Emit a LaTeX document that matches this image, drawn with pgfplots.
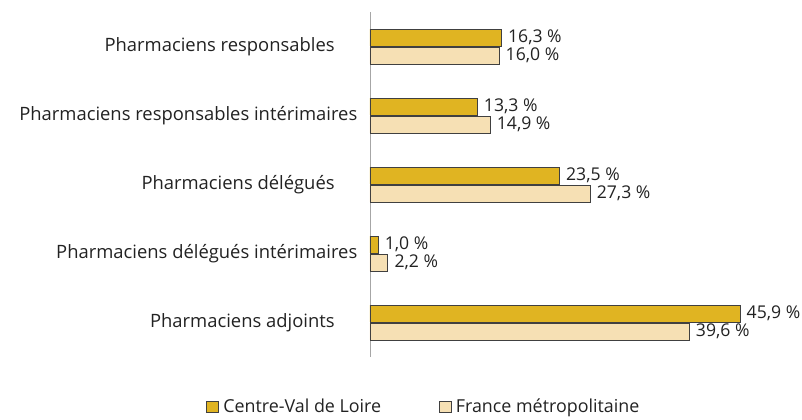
\documentclass[border=0pt]{standalone}
\usepackage{fontspec}
\setmainfont{Open Sans}
\usepackage{pgfplots}
\pgfplotsset{compat=1.18}
\definecolor{cvl}{HTML}{E0B422}
\definecolor{fra}{HTML}{F6E0B4}
\definecolor{txt}{HTML}{222222}

\begin{document}
\begin{tikzpicture}
\useasboundingbox (-277.5pt,-46.5pt) rectangle (324pt,267.75pt);
\begin{axis}[
    xbar,
    scale only axis,
    width=324pt, height=258.75pt,
    xmin=0, xmax=53.6,
    ymin=-0.5, ymax=4.5,
    y dir=reverse,
    bar width=12.6pt,
    axis x line=none,
    axis y line*=left,
    y axis line style={draw=gray!70, line width=0.6pt, -},
    ytick={0,1,2,3,4},
    yticklabels={Pharmaciens responsables\hspace*{17pt}, Pharmaciens responsables intérimaires, Pharmaciens délégués\hspace*{17pt}, Pharmaciens délégués intérimaires, Pharmaciens adjoints\hspace*{17pt}},
    major tick length=0pt,
    yticklabel style={font=\fontsize{13.8}{16}\selectfont, text=txt, xshift=-6pt},
    /pgf/number format/.cd, use comma, fixed, fixed zerofill, precision=1, assume math mode=true,
    /pgfplots/.cd,
    nodes near coords={\pgfmathprintnumber{\pgfplotspointmeta}~\%},
    nodes near coords style={font=\fontsize{13.2}{16}\selectfont, text=txt, anchor=west, xshift=1.5pt},
    clip=false,
    legend style={at={(0.125,0)}, anchor=center, yshift=-37.5pt, draw=none, fill=none,
        font=\fontsize{13.4}{16}\selectfont, text=txt,
        /tikz/every even column/.append style={column sep=41pt}},
    legend columns=2,
    legend image code/.code={\draw[#1, line width=0.6pt] (0pt,-4.2pt) rectangle (9pt,4.2pt); \path (10.5pt,0pt);},
]
\addplot[fill=cvl, draw=black!75, line width=0.5pt, bar shift=6.7pt] coordinates {
    (16.3,0) (13.3,1) (23.5,2) (1.0,3) (45.9,4)
};
\addplot[fill=fra, draw=black!75, line width=0.5pt, bar shift=-6.7pt] coordinates {
    (16.0,0) (14.9,1) (27.3,2) (2.2,3) (39.6,4)
};
\legend{Centre-Val de Loire, France métropolitaine}
\end{axis}
\end{tikzpicture}
\end{document}
